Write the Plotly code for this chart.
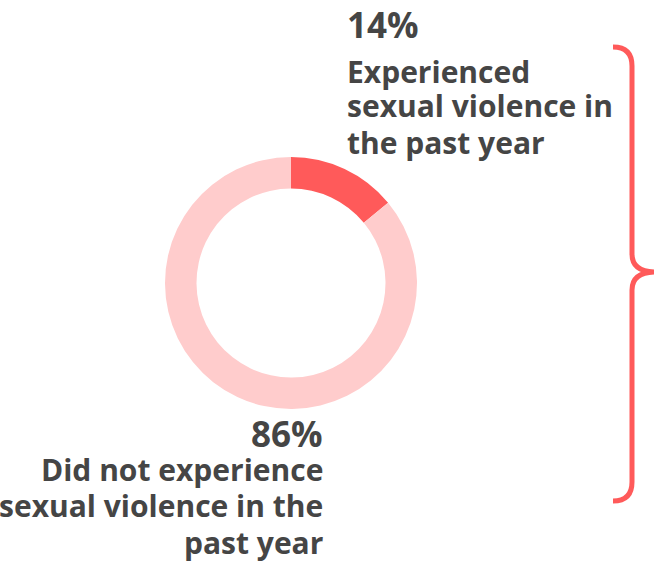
import plotly.graph_objects as go

# Share of respondents
labels = ["Experienced sexual violence in the past year",
          "Did not experience sexual violence in the past year"]
values = [14, 86]
colors = ["#FF5A5A", "#FFCCCC"]

# Label text, split into the drawn lines
top_pct = f"{values[0]}%"
top_lines = ["Experienced", "sexual violence in", "the past year"]
bottom_pct = f"{values[1]}%"
bottom_lines = ["Did not experience", "sexual violence in the", "past year"]

W, H = 654, 566
TEXT = "#454545"
FONT = "Open Sans"

fig = go.Figure()

# Donut
cx, cy, r = 291, 283, 126
fig.add_trace(go.Pie(
    labels=labels, values=values, sort=False, direction="clockwise", rotation=0,
    hole=0.75, marker=dict(colors=colors, line=dict(width=0)),
    textinfo="none", hoverinfo="label+percent", showlegend=False,
    domain=dict(x=[(cx - r) / W, (cx + r) / W], y=[1 - (cy + r) / H, 1 - (cy - r) / H]),
))

# invisible pixel-space axes for the brace and labels
fig.update_xaxes(range=[0, W], visible=False, fixedrange=True)
fig.update_yaxes(range=[H, 0], visible=False, fixedrange=True)

def add_line(text, x, y, size, anchor):
    fig.add_annotation(text=f"<b>{text}</b>", x=x, y=y, xref="x", yref="y",
                       xanchor=anchor, yanchor="middle", showarrow=False,
                       font=dict(family=FONT, size=size, color=TEXT))

add_line(top_pct, 345, 24, 35, "left")
for t, y in zip(top_lines, [71, 105.5, 142.5]):
    add_line(t, 345, y, 30, "left")

add_line(bottom_pct, 325, 433.5, 35, "right")
for t, y in zip(bottom_lines, [469, 505.5, 542]):
    add_line(t, 325, y, 30, "right")

# curly brace grouping both shares
brace = ("M 613,47 Q 632,47 632,66 L 632,254 Q 632,272 656,272 "
         "Q 632,272 632,290 L 632,482 Q 632,501 613,501")
fig.add_shape(type="path", path=brace, xref="x", yref="y",
              line=dict(color="#FF5A5A", width=5))

fig.update_layout(width=W, height=H, margin=dict(l=0, r=0, t=0, b=0),
                  paper_bgcolor="white", plot_bgcolor="white")

fig.write_html("out.html")
